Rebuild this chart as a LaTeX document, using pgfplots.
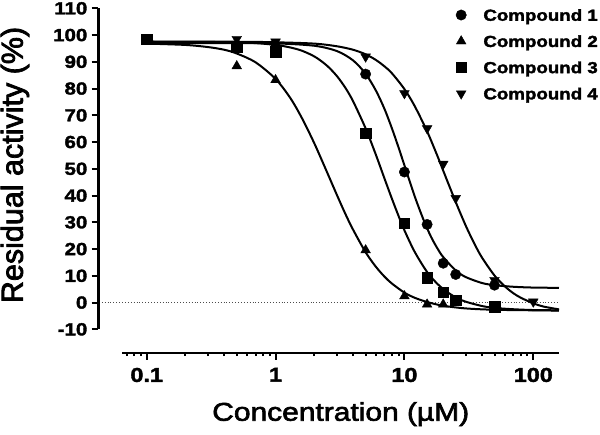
\documentclass[border=0pt]{standalone}
\usepackage{pgfplots}
\pgfplotsset{compat=1.18}
\usepackage{fontspec}
\usepackage{graphicx}
\setmainfont{Liberation Sans}
\newfontfamily\stretchfont{Liberation Sans}[FakeStretch=1.17, FakeBold=2]
\newfontfamily\labelfont{Liberation Sans}[FakeStretch=1.17, FakeBold=2.5]
\newfontfamily\ylabelfont{Liberation Sans}[FakeBold=2.5]
\begin{document}
\begin{tikzpicture}
\begin{axis}[
  at={(0,0)}, anchor=south west,
  scale only axis, width=436.5pt, height=321pt,
  xmode=log, xmin=0.0649, xmax=158.3, ymin=-10, ymax=110,
  axis x line=bottom, axis y line=left,
  axis line style={-, line width=2.2pt},
  axis x line shift=23.4pt, axis y line shift=24pt,
  tick align=outside,
  major tick length=7pt, minor tick length=3.5pt,
  every tick/.style={black, line width=2pt},
  xtick={0.1,1,10,100}, xticklabels={0.1,1,10,100},
  minor xtick={0.07,0.08,0.09,0.2,0.3,0.4,0.5,0.6,0.7,0.8,0.9,2,3,4,5,6,7,8,9,20,30,40,50,60,70,80,90},
  ytick={-10,0,10,20,30,40,50,60,70,80,90,100,110},
  yticklabels={-10,0,10,20,30,40,50,60,70,80,90,100,110},
  yticklabel style={font=\stretchfont\bfseries\fontsize{17.5}{17.5}\selectfont, inner sep=0pt, xshift=-4pt},
  xticklabel style={font=\stretchfont\bfseries\fontsize{20}{20}\selectfont, inner sep=0pt, yshift=-8pt},
  xlabel={Concentration (µM)},
  xlabel style={at={(rel axis cs:0.5,0)}, anchor=base, yshift=-91.4pt, inner sep=0pt,
    font=\labelfont\fontsize{25.6}{25.6}\selectfont},
  ylabel={Residual activity (\%)},
  ylabel style={at={([xshift=-122pt]rel axis cs:0,0.512)}, rotate=0, anchor=north, inner sep=0pt,
    font=\ylabelfont\fontsize{30.5}{30.5}\selectfont},
  clip=false,
  legend style={at={(rel axis cs:0.764,0.997)}, anchor=north west, draw=none, fill=none,
    inner sep=0pt, outer sep=0pt, row sep=14.7pt, column sep=17pt,
    font=\stretchfont\bfseries\fontsize{16}{16}\selectfont,
    nodes={inner sep=0pt, text height=11.5pt, text depth=0pt}},
  legend cell align=left,
  legend image code/.code={\draw[#1] plot coordinates {(0pt,0pt)};},
]
% zero line
\addplot[forget plot, black!70, line width=0.8pt, dash pattern=on 0.9pt off 2pt] coordinates {(0.0448,0) (158.3,0)};
% fitted curves
\addplot[forget plot, black, line width=2pt, smooth] coordinates {
(0.1,97.0) (0.3,97.0) (0.5,97.0) (1,96.9) (2,96.0) (3,94.0) (4,90.5) (5,85.5) (6,79.3) (7,72.4) (8,65.1) (9,58.0) (10,51.3) (12,39.8) (14,31.2) (16,24.8) (18,20.3) (20,17.0) (25,12.0) (30,9.5) (40,7.3) (50,6.5) (70,5.9) (100,5.6) (158.3,5.5)};
\addplot[forget plot, black, line width=2pt, smooth] coordinates {
(0.1,96.8) (0.2,96.3) (0.3,95.5) (0.4,94.5) (0.5,93.1) (0.7,89.8) (1,83.6) (1.3,76.5) (1.6,69.0) (2,59.5) (2.5,48.9) (3,40.1) (3.5,32.9) (4,27.2) (5,18.8) (6,13.4) (7,9.7) (8,7.1) (10,3.7) (12,1.8) (15,0.2) (20,-1.2) (30,-2.2) (50,-2.7) (100,-2.9) (158.3,-3.0)};
\addplot[forget plot, black, line width=2pt, smooth] coordinates {
(0.1,97.5) (0.5,97.3) (1,96.3) (1.5,94.6) (2,92.0) (2.5,88.6) (3,84.6) (3.5,80.1) (4,75.2) (5,65.1) (6,55.3) (7,46.4) (8,38.8) (9,32.4) (10,27.0) (12,19.0) (15,11.4) (18,7.0) (20,5.0) (25,1.9) (30,0.3) (40,-1.3) (50,-2.0) (70,-2.5) (100,-2.8) (158.3,-2.9)};
\addplot[forget plot, black, line width=2pt, smooth] coordinates {
(0.1,97.5) (0.5,97.5) (1,97.3) (2,96.8) (3,95.8) (4,94.5) (5,92.8) (6,90.7) (7,88.3) (8,85.7) (10,79.8) (12,73.5) (15,64.0) (18,54.9) (20,49.3) (25,37.6) (30,28.6) (35,21.9) (40,16.8) (50,10.1) (60,6.1) (70,3.5) (80,1.8) (100,-0.3) (120,-1.5) (158.3,-2.55)};
% data points
\addplot[only marks, mark=*, mark size=5.2pt, black] coordinates {
(0.5,96) (1,95.5) (5,85.4) (10,48.8) (15,29.2) (20,14.7) (25,10.5) (50,6.5)};
\addlegendentry{Compound 1}
\addplot[only marks, mark=triangle*, mark size=5.6pt, black] coordinates {
(0.5,88.4) (1,83.2) (5,19.6) (10,2.4) (15,-0.7) (20,-0.7)};
\addlegendentry{Compound 2}
\addplot[only marks, mark=square*, mark size=5.2pt, black] coordinates {
(0.1,98.4) (0.5,95.5) (1,93.8) (5,63.3) (10,29.6) (15,9.3) (20,3.8) (25,0.9) (50,-1.6)};
\addlegendentry{Compound 3}
\addplot[only marks, mark=triangle*, mark size=5.6pt, mark options={rotate=180}, black] coordinates {
(0.5,98.5) (1,97.5) (5,91.9) (10,78.2) (15,65.1) (20,51.8) (25,39.0) (50,8.4) (100,0.3)};
\addlegendentry{Compound 4}
\end{axis}
\pgfresetboundingbox
\path[use as bounding box] (-122.5pt,-104.7pt) rectangle (477.5pt,329.3pt);
\end{tikzpicture}
\end{document}
